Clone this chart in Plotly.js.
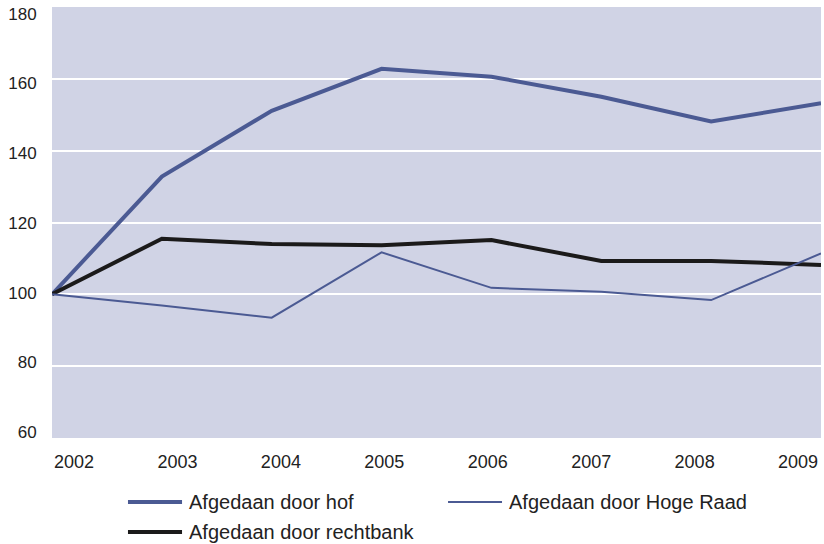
<!DOCTYPE html>
<html>
<head>
<meta charset="utf-8">
<script src="https://cdn.plot.ly/plotly-3.0.1.min.js"></script>
<style>
  html, body { margin: 0; padding: 0; background: #ffffff; }
  #chart { width: 824px; height: 544px; }
</style>
</head>
<body>
<div id="chart"></div>
<script>
// ---- data ----
const years = [2002, 2003, 2004, 2005, 2006, 2007, 2008, 2009];
const yearLabels = ["2002", "2003", "2004", "2005", "2006", "2007", "2008", "2009"];
const hof = [100, 132.8, 151.1, 162.8, 160.6, 155.0, 148.1, 153.2];
const rechtbank = [100, 115.5, 114.0, 113.7, 115.1, 109.3, 109.3, 108.2];
const hogeRaad = [100, 96.9, 93.5, 111.7, 101.8, 100.7, 98.4, 111.4];
const seriesNames = ["Afgedaan door hof", "Afgedaan door rechtbank", "Afgedaan door Hoge Raad"];
const yTicks = [60, 80, 100, 120, 140, 160, 180];
const yTickLabels = ["60", "80", "100", "120", "140", "160", "180"];

// ---- styles ----
const blue = "#4b5a93";
const black = "#1b1a1a";
const txt = "#222222";
const font = "Liberation Sans, Arial, sans-serif";

const traces = [
  { x: years, y: hof, name: seriesNames[0], mode: "lines",
    line: { color: blue, width: 4 }, showlegend: false },
  { x: years, y: rechtbank, name: seriesNames[1], mode: "lines",
    line: { color: black, width: 4 }, showlegend: false },
  { x: years, y: hogeRaad, name: seriesNames[2], mode: "lines",
    line: { color: blue, width: 2 }, showlegend: false },
  // carrier for the label axes
  { x: [years[0]], y: [yTicks[0]], xaxis: "x2", yaxis: "y2", mode: "markers",
    marker: { opacity: 0 }, showlegend: false, hoverinfo: "skip" }
];

// manual legend (line sample + label)
const legendItems = [
  { name: seriesNames[0], color: blue, width: 4, x0: 0.0988, x1: 0.1691, y: -0.1485 },
  { name: seriesNames[2], color: blue, width: 2, x0: 0.515, x1: 0.5852, y: -0.1485 },
  { name: seriesNames[1], color: black, width: 4, x0: 0.0988, x1: 0.1691, y: -0.2181 }
];
const shapes = legendItems.map(it => ({
  type: "line", xref: "paper", yref: "paper",
  x0: it.x0, x1: it.x1, y0: it.y, y1: it.y,
  line: { color: it.color, width: it.width }
}));
const annotations = legendItems.map(it => ({
  xref: "paper", yref: "paper", x: it.x1 + 0.006, y: it.y,
  xanchor: "left", yanchor: "middle", showarrow: false,
  text: it.name, font: { family: font, size: 20, color: txt }
}));

const layout = {
  width: 824, height: 544,
  margin: { l: 52, r: 3, t: 7, b: 106 },
  paper_bgcolor: "#ffffff",
  plot_bgcolor: "#d0d3e5",
  showlegend: false,
  xaxis: {
    range: [years[0], years[years.length - 1]],
    showgrid: false, zeroline: false, showticklabels: false, ticks: "",
    showline: false, fixedrange: true
  },
  yaxis: {
    range: [60, 180], tickvals: yTicks, showticklabels: false,
    showgrid: true, gridcolor: "#ffffff", gridwidth: 2,
    zeroline: false, showline: false, ticks: "", fixedrange: true
  },
  xaxis2: {
    overlaying: "x", anchor: "y2", side: "bottom",
    range: [2001.787, 2009.222],
    tickvals: years, ticktext: yearLabels,
    ticks: "outside", ticklen: 7, tickcolor: "rgba(0,0,0,0)",
    showgrid: false, zeroline: false, showline: false,
    tickfont: { family: font, size: 18, color: txt }
  },
  yaxis2: {
    overlaying: "y", anchor: "x2", side: "left",
    range: [58.28, 181.92],
    tickvals: yTicks, ticktext: yTickLabels,
    ticks: "outside", ticklen: 11, tickcolor: "rgba(0,0,0,0)",
    showgrid: false, zeroline: false, showline: false,
    tickfont: { family: font, size: 17, color: txt }
  },
  shapes: shapes,
  annotations: annotations
};

Plotly.newPlot("chart", traces, layout, { displayModeBar: false, staticPlot: true });
</script>
</body>
</html>
